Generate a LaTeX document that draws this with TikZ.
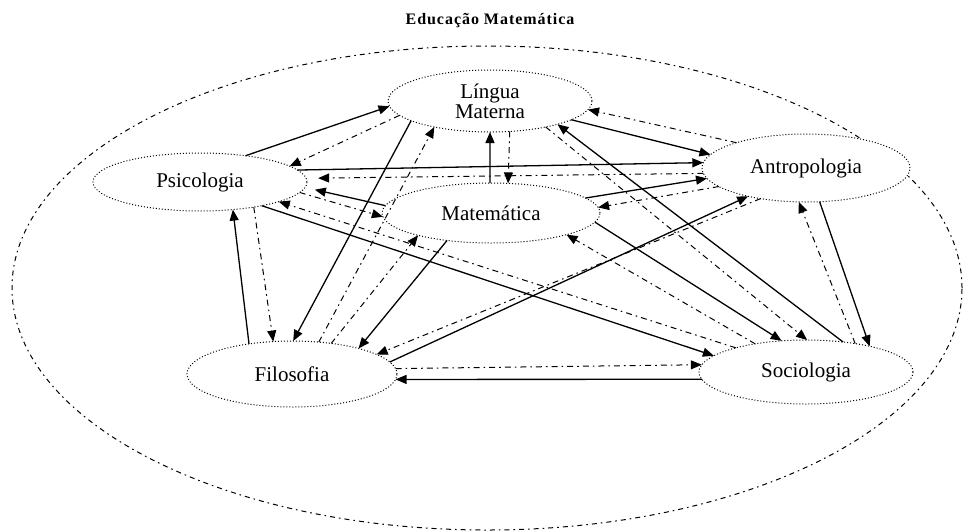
\documentclass[tikz,border=0pt]{standalone}
\usepackage{fontspec}
\setmainfont{Liberation Serif}
\usetikzlibrary{shapes.geometric,arrows.meta}
\begin{document}
\begin{tikzpicture}[x=0.5pt,y=-0.5pt,
  topic/.style={ellipse, draw, line width=0.5pt, dash pattern=on 0.5pt off 1pt,
    inner sep=0pt, outer sep=0pt, fill=white, font=\fontsize{10.5}{9}\selectfont, align=center},
  outerbox/.style={ellipse, draw, line width=0.5pt, dash pattern=on 2.5pt off 2pt on 0.8pt off 2pt,
    inner sep=0pt, outer sep=0pt},
  solidarrow/.style={line width=0.65pt, -{Triangle[length=5.5pt,width=4.5pt]}},
  dotarrow/.style={line width=0.5pt, dash pattern=on 3pt off 2pt on 0.8pt off 2pt,
    -{Triangle[length=5.5pt,width=4.5pt]}},
]
\useasboundingbox (0,0) rectangle (973,531);
\node[outerbox, minimum width=475pt, minimum height=242pt] (outer) at (487,288) {};
\node[font=\fontsize{8}{9}\selectfont\bfseries\addfontfeatures{LetterSpace=6}] (title) at (490,21) {Educação Matemática};

\node[topic, minimum width=102pt, minimum height=31pt] (L) at (490,101) {Língua\\Materna};
\node[topic, minimum width=107pt, minimum height=29pt] (P) at (200,182) {Psicologia};
\node[topic, minimum width=109pt, minimum height=30pt] (M) at (491,213) {Matemática};
\node[topic, minimum width=104pt, minimum height=34pt] (A) at (806,168) {Antropologia};
\node[topic, minimum width=105pt, minimum height=33pt] (F) at (292,374) {Filosofia};
\node[topic, minimum width=107pt, minimum height=32pt] (S) at (806,372) {Sociologia};

% Lingua Materna
\draw[solidarrow] (P.30) -- (L.183);
\draw[dotarrow] (L.189) -- (P.10);
\draw[dotarrow] (F.50) -- (L.205);
\draw[solidarrow] (L.194) -- (F.88);
\draw[solidarrow] (M.92) -- (L.270);
\draw[dotarrow] (L.303) -- (M.60);
\draw[dotarrow] (A.160) -- (L.355);
\draw[solidarrow] (L.347) -- (A.172);
\draw[solidarrow] (S.39) -- (L.341);
\draw[dotarrow] (L.335) -- (S.88);
% Psicologia
\draw[solidarrow] (P.7) -- (A.177);
\draw[dotarrow, shorten >=6pt] (A.183) -- (P.2);
\draw[solidarrow, shorten >=5pt] (M.176) -- (P.357);
\draw[dotarrow] (P.354) -- (M.182);
\draw[dotarrow] (S.161) -- (P.346);
\draw[solidarrow] (P.339) -- (S.170);
\draw[solidarrow] (F.145) -- (P.320);
\draw[dotarrow] (P.335) -- (F.120);
% Matematica
\draw[solidarrow] (M.212) -- (F.21);
\draw[dotarrow] (F.38) -- (M.197);
\draw[solidarrow] (M.9) -- (A.186);
\draw[dotarrow] (A.192) -- (M.3);
\draw[solidarrow] (M.355) -- (S.128);
\draw[dotarrow] (S.151) -- (M.344);
% Antropologia
\draw[solidarrow] (F.7) -- (A.206);
\draw[dotarrow] (A.214) -- (F.13);
\draw[solidarrow] (A.292) -- (S.22);
\draw[dotarrow] (S.30) -- (A.258);
% Filosofia - Sociologia
\draw[dotarrow] (F.3) -- (S.176);
\draw[solidarrow] (S.184) -- (F.357);
\end{tikzpicture}
\end{document}
